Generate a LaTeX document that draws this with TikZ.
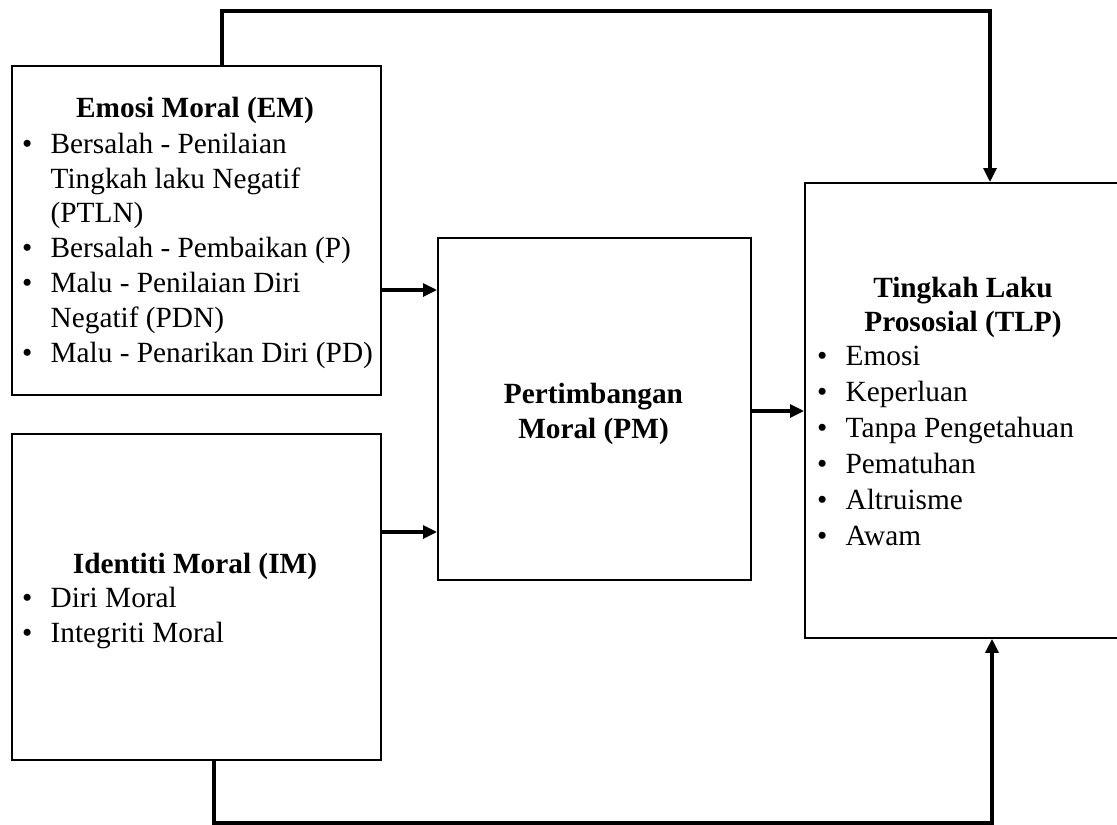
\documentclass[tikz,border=0pt]{standalone}
\usepackage{fontspec}
\setmainfont{Liberation Serif}
\usetikzlibrary{arrows.meta}
\newcommand{\bul}[1]{\makebox[28.5pt][l]{\textbullet}#1}
\begin{document}
\begin{tikzpicture}[x=1pt,y=-1pt,
  box/.style={draw=black,line width=1.8pt,rectangle,inner sep=0pt,anchor=north west},
  conn/.style={line width=3.2pt,-{Triangle[length=14pt,width=13pt]}},
  plain/.style={line width=3.2pt},
  txt/.style={font=\fontsize{29.3pt}{35pt}\selectfont,inner sep=0pt,anchor=base west},
  ttl/.style={font=\fontsize{29.3pt}{35pt}\selectfont\bfseries,inner sep=0pt,anchor=base}]
\useasboundingbox (0,0) rectangle (1117,825);
% boxes
\node[box,minimum width=369pt,minimum height=329pt] (em) at (11,65) {};
\node[box,minimum width=369pt,minimum height=326pt] (im) at (11,433) {};
\node[box,minimum width=313pt,minimum height=342pt] (pm) at (437,237) {};
\node[box,minimum width=318pt,minimum height=455pt] (tlp) at (804,182) {};
% EM text
\node[ttl] (emT) at (195,117) {Emosi Moral (EM)};
\node[txt] (em1) at (22,153) {\bul{Bersalah - Penilaian}};
\node[txt] (em2) at (50.5,188) {Tingkah laku Negatif};
\node[txt] (em3) at (50.5,222.5) {(PTLN)};
\node[txt] (em4) at (22,257.5) {\bul{Bersalah - Pembaikan (P)}};
\node[txt] (em5) at (22,292) {\bul{Malu - Penilaian Diri}};
\node[txt] (em6) at (50.5,327) {Negatif (PDN)};
\node[txt] (em7) at (22,362) {\bul{Malu - Penarikan Diri (PD)}};
% IM text
\node[ttl] (imT) at (195,573) {Identiti Moral (IM)};
\node[txt] (im1) at (22,607) {\bul{Diri Moral}};
\node[txt] (im2) at (22,642) {\bul{Integriti Moral}};
% PM text
\node[ttl] (pmT1) at (593.5,403) {Pertimbangan};
\node[ttl] (pmT2) at (593.5,438) {Moral (PM)};
% TLP text
\node[ttl] (tlpT1) at (963,297) {Tingkah Laku};
\node[ttl] (tlpT2) at (963,331) {Prososial (TLP)};
\node[txt] (tl1) at (817,365) {\bul{Emosi}};
\node[txt] (tl2) at (817,401) {\bul{Keperluan}};
\node[txt] (tl3) at (817,437) {\bul{Tanpa Pengetahuan}};
\node[txt] (tl4) at (817,473) {\bul{Pematuhan}};
\node[txt] (tl5) at (817,509) {\bul{Altruisme}};
\node[txt] (tl6) at (817,545) {\bul{Awam}};
% connector helper coordinates
\coordinate (y1) at (0,290);
\coordinate (y2) at (0,532);
\coordinate (y3) at (0,411);
\coordinate (top1) at (222,11);
\coordinate (top2) at (990,11);
\coordinate (bot1) at (214,823);
\coordinate (bot2) at (992,823);
% connectors
\draw[conn] (em.east |- y1) -- (pm.west |- y1);
\draw[conn] (im.east |- y2) -- (pm.west |- y2);
\draw[conn] (pm.east |- y3) -- (tlp.west |- y3);
\draw[conn] (em.north -| top1) -- (top1) -- (top2) -- (tlp.north -| top2);
\draw[conn] (im.south -| bot1) -- (bot1) -- (bot2) -- (tlp.south -| bot2);
\end{tikzpicture}
\end{document}
